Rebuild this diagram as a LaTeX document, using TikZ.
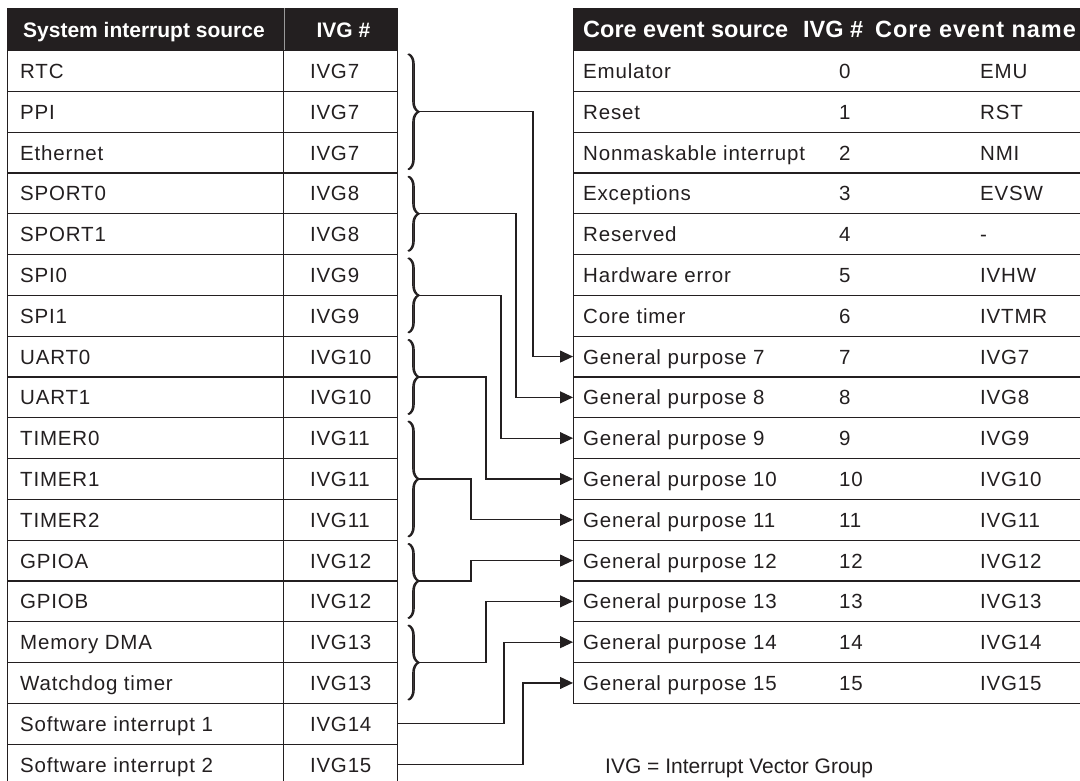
\documentclass[tikz,border=0pt]{standalone}
\usepackage{fontspec}
\setmainfont{Liberation Sans}
\newfontfamily\bodyfont[LetterSpace=4]{Liberation Sans}
\newfontfamily\wideheadfont[LetterSpace=4]{Liberation Sans}
\usetikzlibrary{arrows.meta,decorations.pathreplacing,calc}
\definecolor{ink}{HTML}{231F20}
\definecolor{rule}{HTML}{9A9A9A}

\begin{document}
\begin{tikzpicture}[x=1pt,y=-1pt,
  cellbox/.style={draw=ink,line width=1.1pt,inner sep=0pt,anchor=north west,minimum height=40.8pt},
  headbox/.style={fill=ink,draw=ink,line width=1.1pt,inner sep=0pt,anchor=north west,minimum height=42pt},
  txt/.style={anchor=base west,inner sep=0pt,text=ink,font=\bodyfont\fontsize{20.5}{24}\selectfont},
  lhead/.style={anchor=base west,inner sep=0pt,text=white,font=\fontsize{21}{25}\selectfont\bfseries},
  rhead/.style={anchor=base west,inner sep=0pt,text=white,font=\fontsize{23.5}{28}\selectfont\bfseries},
  groupbrace/.style={draw=ink,line width=1.4pt,decorate,decoration={brace,amplitude=10pt}},
  conn/.style={draw=ink,line width=1.1pt,-{Triangle[length=13pt,width=12pt]}}
]
\clip (0,0) rectangle (1080,780);

% ---- system interrupt table ----
\node[headbox,minimum width=276.3pt] (hsrc) at (7,8) {};
\node[headbox,minimum width=114pt] (hivg) at (283.3,8) {};
\draw[rule,line width=1.2pt] (hsrc.north east) -- (hsrc.south east);
\node[lhead] (hsrct) at ([xshift=16pt,yshift=-7.5pt]hsrc.west) {System interrupt source};
\node[lhead] (hivgt) at ([xshift=33pt,yshift=-7.5pt]hivg.west) {IVG \#};

\foreach \src/\ivg [count=\k] in {RTC/IVG7, PPI/IVG7, Ethernet/IVG7, SPORT0/IVG8,
    SPORT1/IVG8, SPI0/IVG9, SPI1/IVG9, UART0/IVG10, UART1/IVG10, TIMER0/IVG11,
    TIMER1/IVG11, TIMER2/IVG11, GPIOA/IVG12, GPIOB/IVG12, Memory DMA/IVG13,
    Watchdog timer/IVG13, Software interrupt 1/IVG14, Software interrupt 2/IVG15} {
  \node[cellbox,minimum width=276.3pt] (s\k) at (7,{50+40.8*(\k-1)}) {};
  \node[cellbox,minimum width=114pt] (v\k) at (283.3,{50+40.8*(\k-1)}) {};
  \node[txt] (s\k t) at ([xshift=13pt,yshift=-7.5pt]s\k.west) {\src};
  \node[txt] (v\k t) at ([xshift=26.5pt,yshift=-7.5pt]v\k.west) {\ivg};
}

% ---- core event table ----
\node[headbox,minimum width=530pt] (hcore) at (573,8) {};
\node[rhead] (hc1) at ([xshift=10pt,yshift=-8pt]hcore.west) {Core event source};
\node[rhead] (hc2) at ([xshift=230pt,yshift=-8pt]hcore.west) {IVG \#};
\node[rhead,font=\wideheadfont\fontsize{23.5}{28}\selectfont\bfseries] (hc3) at ([xshift=302pt,yshift=-8pt]hcore.west) {Core event name};

\foreach \name/\num/\code [count=\k from 0] in {Emulator/0/EMU, Reset/1/RST,
    Nonmaskable interrupt/2/NMI, Exceptions/3/EVSW, Reserved/4/-,
    Hardware error/5/IVHW, Core timer/6/IVTMR,
    General purpose 7/7/IVG7, General purpose 8/8/IVG8, General purpose 9/9/IVG9,
    General purpose 10/10/IVG10, General purpose 11/11/IVG11,
    General purpose 12/12/IVG12, General purpose 13/13/IVG13,
    General purpose 14/14/IVG14, General purpose 15/15/IVG15} {
  \node[cellbox,minimum width=530pt] (r\k) at (573,{50+40.8*\k}) {};
  \node[txt] (r\k a) at ([xshift=10pt,yshift=-7.5pt]r\k.west) {\name};
  \node[txt] (r\k b) at ([xshift=266pt,yshift=-7.5pt]r\k.west) {\num};
  \node[txt] (r\k c) at ([xshift=407pt,yshift=-7.5pt]r\k.west) {\code};
}

% ---- braces grouping sources that share a vector group ----
% each brace is stroked twice, a little apart, so its upright parts come out heavier
\foreach \a/\b/\g in {1/3/7, 4/5/8, 6/7/9, 8/9/10, 10/12/11, 13/14/12, 15/16/13} {
  \draw[groupbrace] ([xshift=9.5pt,yshift=-4pt]v\a.north east) -- ([xshift=9.5pt,yshift=4pt]v\b.south east);
  \draw[groupbrace] ([xshift=10.7pt,yshift=-4pt]v\a.north east) -- ([xshift=10.7pt,yshift=4pt]v\b.south east);
  \coordinate (b\g) at ($(v\a.north east)!0.5!(v\b.south east)+(20.5pt,0pt)$);
}

% ---- routing to the general purpose events ----
\draw[conn] (b7)  -| ([xshift=-40pt]r7.west)  -- (r7.west);
\draw[conn] (b8)  -| ([xshift=-57pt]r8.west)  -- (r8.west);
\draw[conn] (b9)  -| ([xshift=-72pt]r9.west)  -- (r9.west);
\draw[conn] (b10) -| ([xshift=-87pt]r10.west) -- (r10.west);
\draw[conn] (b11) -| ([xshift=-102pt]r11.west) -- (r11.west);
\draw[conn] (b12) -| ([xshift=-102pt]r12.west) -- (r12.west);
\draw[conn] (b13) -| ([xshift=-87pt]r13.west) -- (r13.west);
\draw[conn] (v17.east) -| ([xshift=-69pt]r14.west) -- (r14.west);
\draw[conn] (v18.east) -| ([xshift=-50pt]r15.west) -- (r15.west);

\node[txt,font=\fontsize{21}{24}\selectfont] (note) at (605,773) {IVG = Interrupt Vector Group};
\end{tikzpicture}
\end{document}
